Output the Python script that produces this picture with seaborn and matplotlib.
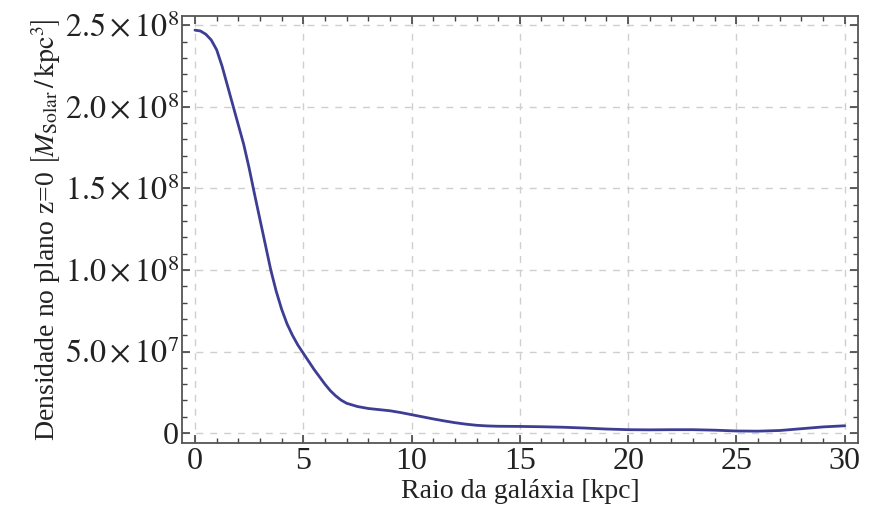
import numpy as np
import pandas as pd
import matplotlib
matplotlib.use("Agg")
import matplotlib.pyplot as plt
import seaborn as sns
from matplotlib.ticker import MultipleLocator, FuncFormatter

# radius [kpc] and density in the z=0 plane [M_solar / kpc^3]
raio = [0, 0.25, 0.5, 0.75, 1.0, 1.25, 1.5, 1.75, 2.0, 2.25, 2.5, 2.75, 3.0,
        3.25, 3.5, 3.75, 4.0, 4.25, 4.5, 4.75, 5.0, 5.25, 5.5, 5.75, 6.0,
        6.25, 6.5, 6.75, 7.0, 7.5, 8.0, 8.5, 9.0, 9.5, 10.0, 10.5, 11.0,
        11.5, 12.0, 12.5, 13.0, 13.5, 14.0, 15.0, 16.0, 17.0, 18.0, 19.0,
        20.0, 21.0, 22.0, 23.0, 24.0, 25.0, 26.0, 27.0, 28.0, 29.0, 30.0]
densidade = [2.47e8, 2.465e8, 2.445e8, 2.41e8, 2.35e8, 2.25e8, 2.13e8, 2.01e8,
             1.89e8, 1.77e8, 1.625e8, 1.465e8, 1.31e8, 1.155e8, 1.0e8, 0.87e8,
             0.76e8, 0.67e8, 0.6e8, 0.54e8, 0.49e8, 0.44e8, 0.39e8, 0.345e8,
             0.3e8, 0.26e8, 0.228e8, 0.202e8, 0.183e8, 0.163e8, 0.151e8,
             0.144e8, 0.137e8, 0.126e8, 0.113e8, 0.1e8, 0.087e8, 0.075e8,
             0.064e8, 0.055e8, 0.048e8, 0.044e8, 0.042e8, 0.041e8, 0.039e8,
             0.036e8, 0.031e8, 0.025e8, 0.021e8, 0.02e8, 0.021e8, 0.021e8,
             0.018e8, 0.013e8, 0.012e8, 0.016e8, 0.027e8, 0.038e8, 0.045e8]
x_ticks = [0, 5, 10, 15, 20, 25, 30]
y_ticks = [0, 5e7, 1e8, 1.5e8, 2e8, 2.5e8]

df = pd.DataFrame({"raio": raio, "densidade": densidade})

sns.set_style("ticks")
plt.rcParams["font.family"] = ["Liberation Serif", "DejaVu Serif"]
plt.rcParams["mathtext.fontset"] = "stix"

fig = plt.figure(figsize=(8.77, 5.15), dpi=100)
ax = fig.add_axes([0.2075, 0.14, 0.7705, 0.829])

sns.lineplot(data=df, x="raio", y="densidade", ax=ax, color="#3d3d94", lw=2)

ax.set_xlim(-0.6, 30.6)
ax.set_ylim(-0.6e7, 2.557e8)
ax.set_xticks(x_ticks)
ax.set_yticks(y_ticks)
ax.xaxis.set_minor_locator(MultipleLocator(1))
ax.yaxis.set_minor_locator(MultipleLocator(1e7))


def sci(v, pos):
    if v == 0:
        return "0"
    exp = int(np.floor(np.log10(v)))
    return r"$%.1f\times10^{%d}$" % (v / 10**exp, exp)


ax.yaxis.set_major_formatter(FuncFormatter(sci))
ax.tick_params(which="both", direction="in", top=True, right=True, colors="#444444",
               labelcolor="#222222")
ax.tick_params(which="major", length=6, width=1.2, labelsize=23)
ax.tick_params(which="minor", length=3.5, width=1)
ax.tick_params(axis="x", pad=3)
ax.tick_params(axis="y", pad=2)
for sp in ax.spines.values():
    sp.set_color("#555555")
    sp.set_linewidth(1.3)

ax.grid(True, which="major", color="#cfcfcf", linestyle=(0, (5, 5)), lw=1)

ax.set_xlabel("Raio da galáxia [kpc]", fontsize=20, color="#222222", labelpad=2)
ax.set_ylabel(r"Densidade no plano z=0 $\left[M_{\mathrm{Solar}}\,/\,\mathrm{kpc}^{3}\right]$",
              fontsize=20, color="#222222", labelpad=2)

fig.savefig("out.png", dpi=100)
